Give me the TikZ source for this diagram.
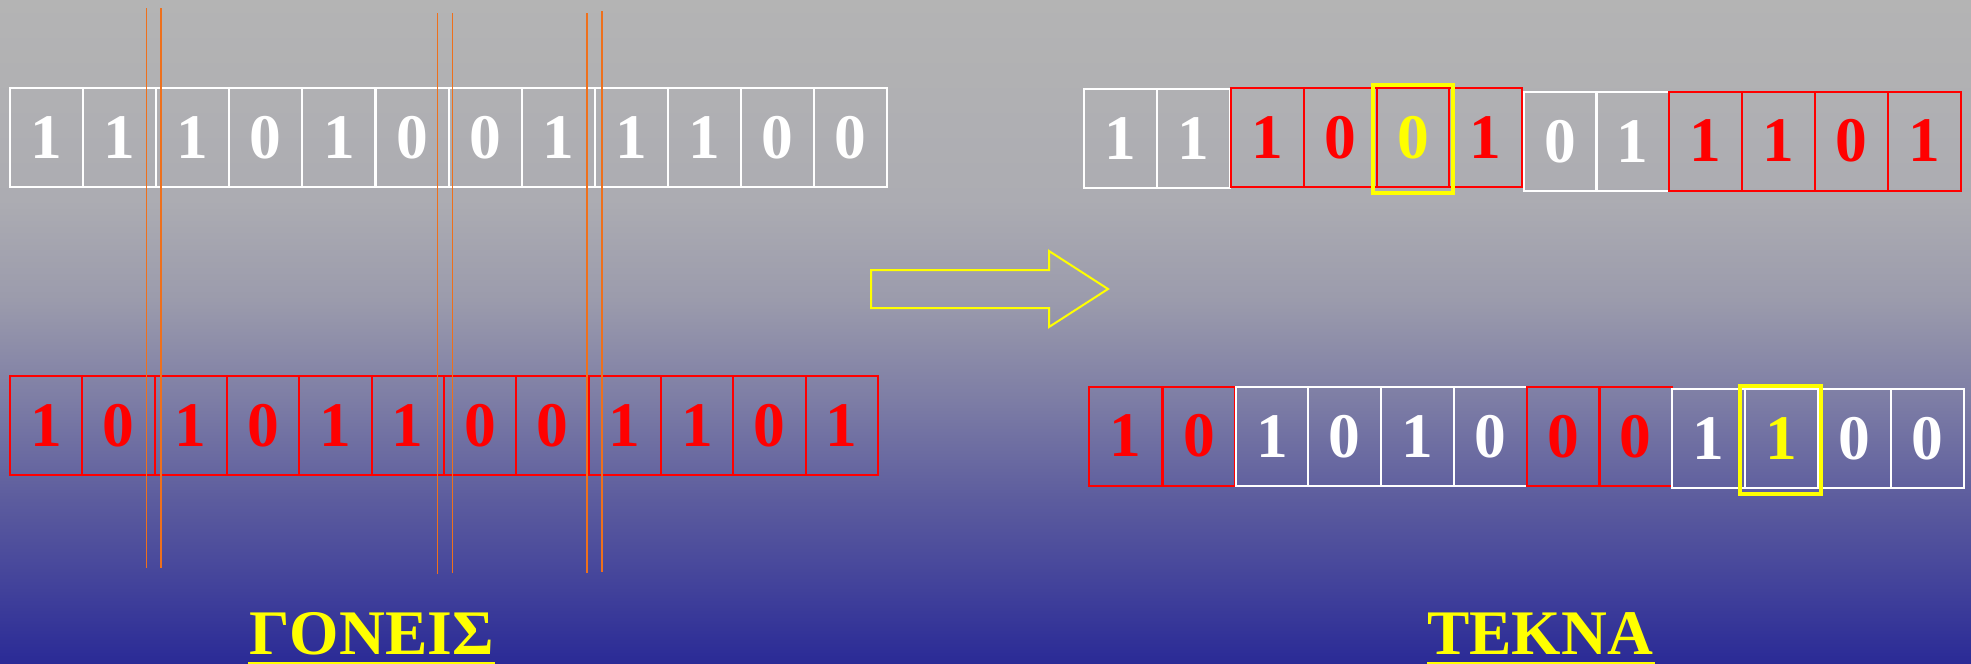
\documentclass[tikz,border=0pt]{standalone}
\usepackage{fontspec}
\setmainfont{Liberation Serif}
\usetikzlibrary{calc}

% backdrop ramp, grey at the top to deep blue at the bottom
\definecolor{bgA}{RGB}{180,180,180}
\definecolor{bgB}{RGB}{172,172,178}
\definecolor{bgC}{RGB}{155,155,172}
\definecolor{bgD}{RGB}{125,125,165}
\definecolor{bgE}{RGB}{92,92,158}
\definecolor{bgF}{RGB}{68,68,155}
\definecolor{bgG}{RGB}{42,42,150}
\definecolor{cutorange}{RGB}{238,112,28}
\definecolor{bitred}{RGB}{255,0,0}
\definecolor{bityellow}{RGB}{255,255,0}

\pgfdeclareverticalshading{backdrop}{100bp}{%
  color(0bp)=(bgG); color(25bp)=(bgG); color(31.33bp)=(bgF);
  color(37.35bp)=(bgE); color(44.88bp)=(bgD); color(52.41bp)=(bgC);
  color(59.94bp)=(bgB); color(75bp)=(bgA); color(100bp)=(bgA)}

\newcommand\digitfont{\fontsize{31.75pt}{36pt}\selectfont\bfseries}

\tikzset{
  cell/.style={draw, line width=1pt, minimum height=49.5pt, inner sep=0pt,
    font=\digitfont},
  wcell/.style={cell, draw=white, text=white},
  rcell/.style={cell, draw=bitred, text=bitred},
  rycell/.style={cell, draw=bitred, text=bityellow},
  wycell/.style={cell, draw=white, text=bityellow},
  cutline/.style={draw=cutorange, line width=0.8pt},
  mark box/.style={draw=bityellow, line width=2pt},
  title/.style={text=bityellow, font=\fontsize{31.75pt}{36pt}\selectfont\bfseries,
    inner sep=0pt},
}

\begin{document}
\begin{tikzpicture}[x=0.5pt,y=-0.5pt]
  \useasboundingbox (0,0) rectangle (1971,664);
  \shade[shading=backdrop] (0,0) rectangle (1971,664);

  % first parent
  \foreach \d [count=\i from 0] in {1,1,1,0,1,0,0,1,1,1,0,0}
    \node[wcell, minimum width=36.5pt] (pa\i) at ({46.5+73.1*\i},137.5) {\d};

  % second parent
  \foreach \d [count=\i from 0] in {1,0,1,0,1,1,0,0,1,1,0,1}
    \node[rcell, minimum width=36.2pt] (pb\i) at ({46+72.35*\i},425.5) {\d};

  % crossover cut points
  \draw[cutline] (146.4,8) -- (146.4,568);
  \draw[cutline] (160.7,8) -- (160.7,568);
  \draw[cutline] (437.4,13) -- (437.4,574);
  \draw[cutline] (452.4,13) -- (452.4,573);
  \draw[cutline] (586.7,13) -- (586.7,573);
  \draw[cutline] (602.2,11) -- (602.2,572);

  % first child
  \foreach \d/\s/\x/\y [count=\i from 0] in {
      1/wcell/1120.75/138.5, 1/wcell/1193.45/138.5,
      1/rcell/1267.4/137.5, 0/rcell/1340.1/137.5, 0/rycell/1412.9/137.5, 1/rcell/1485.6/137.5,
      0/wcell/1560.25/141.5, 1/wcell/1632.75/141.5,
      1/rcell/1705.5/141, 1/rcell/1778.5/141, 0/rcell/1851.5/141, 1/rcell/1924.5/141}
    \node[\s, minimum width=36.4pt] (ca\i) at (\x,\y) {\d};
  \draw[mark box] ($(ca4.north west)+(-3,-2)$) rectangle ($(ca4.south east)+(3,5)$);

  % second child
  \foreach \d/\s/\x/\y [count=\i from 0] in {
      1/rcell/1125.6/436, 0/rcell/1198.9/436,
      1/wcell/1271.95/436.5, 0/wcell/1344.85/436.5, 1/wcell/1417.75/436.5, 0/wcell/1490.65/436.5,
      0/rcell/1563.25/436.5, 0/rcell/1635.75/436.5,
      1/wcell/1708.5/438.5, 1/wycell/1781.5/438.5, 0/wcell/1854.5/438.5, 0/wcell/1927.5/438.5}
    \node[\s, minimum width=36.4pt] (cb\i) at (\x,\y) {\d};
  \draw[mark box] ($(cb9.north west)+(-4,-2)$) rectangle ($(cb9.south east)+(2,5)$);

  % outlined arrow from parents to children
  \draw[bityellow, line width=1pt, line join=miter]
    (871,270) -- (1049,270) -- (1049,251) -- (1108,289) -- (1049,327)
    -- (1049,308) -- (871,308) -- cycle;

  % captions
  \node[title, anchor=base] (gon) at (371.5,654) {ΓΟΝΕΙΣ};
  \node[title, anchor=base] (tek) at (1540,654) {ΤΕΚΝΑ};
  \fill[bityellow] (248,661.5) rectangle (495,664);
  \fill[bityellow] (1427,661.5) rectangle (1655,664);
\end{tikzpicture}
\end{document}
